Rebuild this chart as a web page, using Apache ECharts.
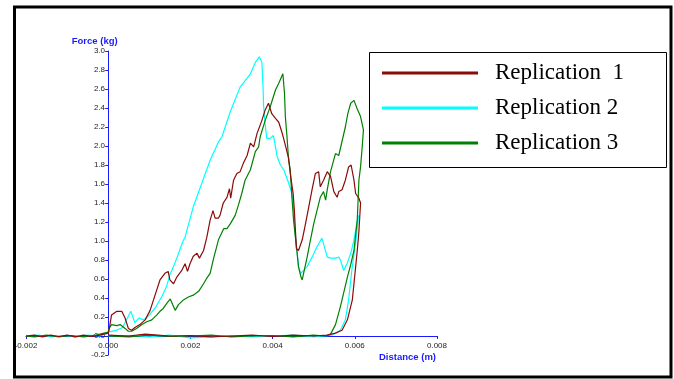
<!DOCTYPE html>
<html>
<head>
<meta charset="utf-8">
<script src="https://cdn.jsdelivr.net/npm/echarts@6/dist/echarts.min.js"></script>
<style>
  html, body { margin: 0; padding: 0; background: #fff; }
  #main { width: 674px; height: 379px; }
</style>
</head>
<body>
<div id="main"></div>
<script>
// force (kg) vs distance (m): [distance, force]
var rep1 = [
  [-0.002, 0], [-0.0018, 0.01], [-0.0016, -0.01], [-0.0014, 0.01], [-0.0012, -0.005], [-0.001, 0.01],
  [-0.0008, -0.01], [-0.0006, 0.01], [-0.0004, -0.005], [-0.0002, 0.01], [0, 0.03],
  [0.00002, 0.06], [0.00008, 0.22], [0.00021, 0.26], [0.00033, 0.26], [0.00041, 0.19], [0.00049, 0.08],
  [0.00057, 0.06], [0.00065, 0.09], [0.00077, 0.12], [0.0009, 0.17], [0.00102, 0.27], [0.00114, 0.43],
  [0.00126, 0.59], [0.00138, 0.66], [0.00146, 0.68], [0.0015, 0.59], [0.00159, 0.55], [0.00167, 0.62],
  [0.00179, 0.69], [0.00187, 0.76], [0.00193, 0.68], [0.00199, 0.76], [0.00207, 0.84], [0.00216, 0.87],
  [0.00222, 0.82], [0.00232, 0.9], [0.0024, 1.04], [0.00248, 1.22], [0.00255, 1.32], [0.0026, 1.24],
  [0.00268, 1.24], [0.00272, 1.27], [0.0028, 1.4], [0.00289, 1.46], [0.00295, 1.55], [0.00298, 1.45],
  [0.00305, 1.64], [0.00313, 1.71], [0.00321, 1.73], [0.00329, 1.82], [0.00338, 1.9], [0.00346, 2.03],
  [0.00354, 1.99], [0.00362, 2.13], [0.00374, 2.27], [0.00382, 2.38], [0.0039, 2.45], [0.00398, 2.34],
  [0.00407, 2.29], [0.00415, 2.25], [0.00423, 2.14], [0.00431, 2.01], [0.00439, 1.87], [0.00443, 1.71],
  [0.0045, 1.5], [0.00453, 1.32], [0.00455, 1.15], [0.00458, 0.92], [0.00463, 0.9], [0.00472, 1.01],
  [0.0048, 1.18], [0.00488, 1.36], [0.00496, 1.54], [0.00504, 1.71], [0.00512, 1.73], [0.00516, 1.57],
  [0.00524, 1.64], [0.00533, 1.73], [0.00541, 1.68], [0.00549, 1.52], [0.00557, 1.46], [0.00561, 1.52],
  [0.00569, 1.54], [0.00577, 1.64], [0.00585, 1.78], [0.00591, 1.8], [0.00598, 1.64], [0.00602, 1.5],
  [0.0061, 1.45], [0.00614, 1.4],
  [0.0061, 1.1], [0.00606, 0.9], [0.00594, 0.38], [0.00582, 0.17], [0.00569, 0.06], [0.00553, 0.03], [0.00533, 0.01],
  [0.005, 0], [0.0045, 0.01], [0.004, -0.005], [0.0035, 0.01], [0.003, 0], [0.0025, -0.01],
  [0.002, 0.005], [0.0015, 0], [0.0009, 0.02], [0.0005, 0], [0, 0.01]
];

var rep2 = [
  [-0.002, 0], [-0.0017, 0.01], [-0.0014, -0.01], [-0.0011, 0.005], [-0.0008, -0.01], [-0.0005, 0.01],
  [-0.0002, 0], [0, 0.04],
  [0.0002, 0.06], [0.00035, 0.09], [0.00048, 0.2], [0.00055, 0.26], [0.0006, 0.2], [0.00065, 0.14],
  [0.00075, 0.19], [0.00086, 0.17], [0.001, 0.22], [0.00115, 0.3], [0.0013, 0.41], [0.00142, 0.52],
  [0.00151, 0.66], [0.00155, 0.69], [0.00167, 0.82], [0.00182, 1.0], [0.00187, 1.04], [0.00207, 1.36],
  [0.00228, 1.61], [0.00248, 1.85], [0.00268, 2.04], [0.00277, 2.1], [0.00297, 2.36], [0.00321, 2.62],
  [0.00346, 2.76], [0.00358, 2.88], [0.00368, 2.94], [0.00374, 2.88], [0.00377, 2.59], [0.00378, 2.43],
  [0.00382, 2.22], [0.00386, 2.08], [0.00394, 2.08], [0.00402, 2.11], [0.00407, 1.99], [0.00411, 1.89],
  [0.00419, 1.8], [0.00427, 1.75], [0.00439, 1.61], [0.00447, 1.5], [0.0045, 1.4], [0.00455, 1.08],
  [0.0046, 0.87], [0.00463, 0.73], [0.00468, 0.66], [0.00472, 0.64], [0.00476, 0.69], [0.00484, 0.73],
  [0.00496, 0.83], [0.00508, 0.94], [0.0052, 1.03], [0.00524, 0.97], [0.00533, 0.83], [0.00541, 0.82],
  [0.00553, 0.82], [0.00561, 0.83], [0.00565, 0.8], [0.00573, 0.69], [0.00581, 0.76], [0.0059, 0.87],
  [0.00598, 1.01], [0.00606, 1.22], [0.00609, 1.27],
  [0.00604, 1.05], [0.00593, 0.7], [0.00585, 0.38], [0.00577, 0.17], [0.00565, 0.06], [0.00545, 0.01],
  [0.005, -0.01], [0.0045, 0.01], [0.004, 0], [0.0035, -0.01], [0.003, 0.005], [0.0025, -0.01],
  [0.002, -0.02], [0.0015, 0.01], [0.001, -0.01], [0.0005, 0.005], [0, 0]
];

var rep3 = [
  [-0.002, 0], [-0.0018, -0.01], [-0.0015, 0.01], [-0.0012, -0.01], [-0.0009, 0.005], [-0.0006, -0.01],
  [-0.0003, 0.01], [0, 0.04],
  [0.00002, 0.08], [0.00008, 0.12], [0.00021, 0.11], [0.00029, 0.12], [0.00041, 0.08], [0.00049, 0.05],
  [0.00057, 0.05], [0.00069, 0.08], [0.00082, 0.12], [0.00094, 0.15], [0.00106, 0.17], [0.00118, 0.22],
  [0.00126, 0.26], [0.00134, 0.29], [0.00142, 0.34], [0.00151, 0.39], [0.00157, 0.33], [0.00163, 0.27],
  [0.00171, 0.33], [0.00183, 0.38], [0.00195, 0.41], [0.00207, 0.43], [0.0022, 0.47], [0.00232, 0.55],
  [0.0024, 0.61], [0.00248, 0.66], [0.00256, 0.81], [0.00264, 0.94], [0.00268, 1.01], [0.00281, 1.13],
  [0.00289, 1.13], [0.00297, 1.18], [0.00309, 1.27], [0.00317, 1.38], [0.00325, 1.5], [0.00333, 1.64],
  [0.00346, 1.75], [0.00358, 1.94], [0.00366, 1.99], [0.0037, 2.1], [0.00382, 2.27], [0.00394, 2.41],
  [0.00407, 2.59], [0.00415, 2.66], [0.00425, 2.76], [0.00429, 2.55], [0.00431, 2.31], [0.00435, 2.1],
  [0.00439, 1.85], [0.00443, 1.75], [0.00447, 1.46], [0.00451, 1.22], [0.00458, 0.94], [0.00463, 0.73],
  [0.00469, 0.62], [0.00472, 0.59], [0.00477, 0.69], [0.00484, 0.83], [0.00492, 1.01], [0.005, 1.18],
  [0.00508, 1.32], [0.00516, 1.46], [0.00524, 1.52], [0.00529, 1.43], [0.00533, 1.54], [0.00541, 1.73],
  [0.00553, 1.92], [0.00561, 1.9], [0.00569, 2.05], [0.00577, 2.2], [0.00583, 2.34], [0.0059, 2.45],
  [0.00598, 2.48], [0.00606, 2.39], [0.00614, 2.31], [0.00621, 2.17],
  [0.00618, 1.99], [0.00614, 1.78], [0.0061, 1.64], [0.00606, 1.22], [0.00598, 0.9], [0.0059, 0.75],
  [0.00582, 0.62], [0.00565, 0.31], [0.00553, 0.12], [0.00541, 0.02], [0.00528, 0],
  [0.005, 0.01], [0.0045, -0.01], [0.004, 0.005], [0.0035, 0], [0.003, -0.01], [0.0025, 0.01],
  [0.002, 0], [0.0015, -0.005], [0.001, 0.01], [0.0005, -0.01], [0, 0]
];

var names = ['Replication  1', 'Replication 2', 'Replication 3'];
var colors = ['#8b0a0a', '#00ffff', '#008000'];

var axisBlue = '#1a1aff';

var chart = echarts.init(document.getElementById('main'));

function lineSeries(i, data) {
  return {
    name: names[i],
    type: 'line',
    data: data,
    symbol: 'none',
    lineStyle: { width: 1.2, color: colors[i] },
    itemStyle: { color: colors[i] },
    z: 2
  };
}

chart.setOption({
  animation: false,
  backgroundColor: '#fff',
  grid: { left: 26, right: 237, top: 51, bottom: 24 },
  xAxis: {
    type: 'value',
    min: -0.002,
    max: 0.008,
    interval: 0.002,
    name: 'Distance (m)',
    nameLocation: 'end',
    nameGap: 0,
    nameMoveOverlap: false,
    nameTextStyle: {
      color: axisBlue, fontWeight: 'bold', fontSize: 9.5, fontFamily: 'Liberation Sans',
      align: 'right', verticalAlign: 'top', padding: [16, 1, 0, 0]
    },
    axisLine: { onZero: true, lineStyle: { color: axisBlue, width: 1 } },
    axisTick: { show: true, length: 3, lineStyle: { color: axisBlue } },
    // labels are placed from the grid edge, so pull them up to the zero line
    axisLabel: {
      color: '#222', fontSize: 8, fontFamily: 'Liberation Sans', margin: -13,
      formatter: function (v) { return v.toFixed(3); }
    },
    splitLine: { show: false }
  },
  yAxis: {
    type: 'value',
    min: -0.2,
    max: 3.0,
    interval: 0.2,
    name: 'Force (kg)',
    nameLocation: 'end',
    nameGap: 5,
    nameMoveOverlap: false,
    nameTextStyle: {
      color: axisBlue, fontWeight: 'bold', fontSize: 9.5, fontFamily: 'Liberation Sans',
      align: 'center', padding: [0, 27, 0, 0]
    },
    axisLine: { show: true, onZero: true, lineStyle: { color: axisBlue, width: 1 } },
    axisTick: { show: true, length: 3, lineStyle: { color: axisBlue } },
    axisLabel: {
      color: '#222', fontSize: 8, fontFamily: 'Liberation Sans', margin: -79,
      formatter: function (v) { return v.toFixed(1); }
    },
    splitLine: { show: false }
  },
  legend: {
    data: names,
    orient: 'vertical',
    left: 382,
    top: 61,
    padding: 0,
    icon: 'rect',
    itemWidth: 96,
    itemHeight: 3,
    itemGap: 11,
    selectedMode: false,
    textStyle: {
      fontFamily: 'Liberation Serif', fontSize: 23, color: '#000',
      lineHeight: 24, padding: [0, 0, 0, 12]
    }
  },
  graphic: [
    {
      type: 'rect',
      shape: { x: 14.5, y: 7, width: 656.5, height: 370 },
      style: { fill: null, stroke: '#000', lineWidth: 3 },
      silent: true
    },
    {
      type: 'rect',
      shape: { x: 369.5, y: 52.5, width: 297, height: 115 },
      style: { fill: null, stroke: '#000', lineWidth: 1 },
      silent: true
    }
  ],
  series: [
    lineSeries(1, rep2),
    lineSeries(2, rep3),
    lineSeries(0, rep1)
  ]
});
</script>
</body>
</html>
